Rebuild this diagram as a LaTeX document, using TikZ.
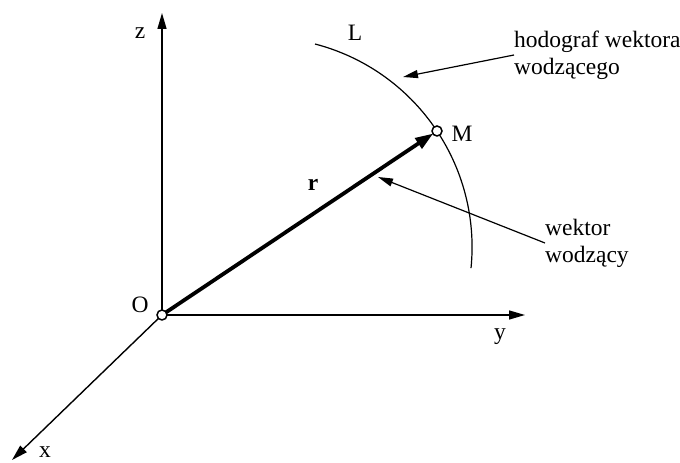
\documentclass[tikz,border=0pt]{standalone}
\usepackage{fontspec}
\setmainfont{Liberation Serif}
\usetikzlibrary{arrows.meta}
\begin{document}
\begin{tikzpicture}[x=1pt,y=1pt,
  axis/.style={line width=1.4pt,-{Triangle[length=16pt,width=9pt]}},
  pointer/.style={line width=1.2pt,-{Triangle[length=15pt,width=8pt]}},
  lbl/.style={font=\fontsize{23.5}{27}\selectfont,inner sep=0pt},
  dot/.style={circle,draw,fill=white,line width=1.5pt,inner sep=0pt,minimum size=10pt}]
\useasboundingbox (0,0) rectangle (680,463);
\coordinate (O) at (162,148);
\coordinate (M) at (437,332);
\coordinate (zt) at (162,450);
\coordinate (yt) at (525,148);
\coordinate (xt) at (12,3);
\coordinate (L0) at (315,419);
\draw[axis] (O) -- (zt);
\draw[axis] (O) -- (yt);
\draw[axis] (O) -- (xt);
\draw[line width=1.2pt] (L0) arc[start angle=75.4,end angle=-5.7,radius=210pt];
\draw[line width=3.8pt,-{Triangle[length=18pt,width=12pt]},shorten >=4.5pt] (O) -- (M);
\node[dot] (Od) at (O) {};
\node[dot] (Md) at (M) {};
\node[lbl] (zl) at (140,430) {z};
\node[lbl] (yl) at (500,126) {y};
\node[lbl] (xl) at (45,11) {x};
\node[lbl] (Ol) at (140,158) {O};
\node[lbl] (Ll) at (355,430) {L};
\node[lbl] (Ml) at (462,329) {M};
\node[lbl,font=\fontsize{23.5}{27}\selectfont\bfseries] (rl) at (313,278) {r};
\node[lbl,anchor=west,align=left] (hod) at (514,408) {hodograf wektora\\wodzącego};
\node[lbl,anchor=west,align=left] (wek) at (545,220) {wektor\\wodzący};
\coordinate (hp) at (403,386);
\coordinate (wp) at (378,286);
\draw[pointer] (hod.west) -- (hp);
\draw[pointer] (wek.west) -- (wp);
\end{tikzpicture}
\end{document}
